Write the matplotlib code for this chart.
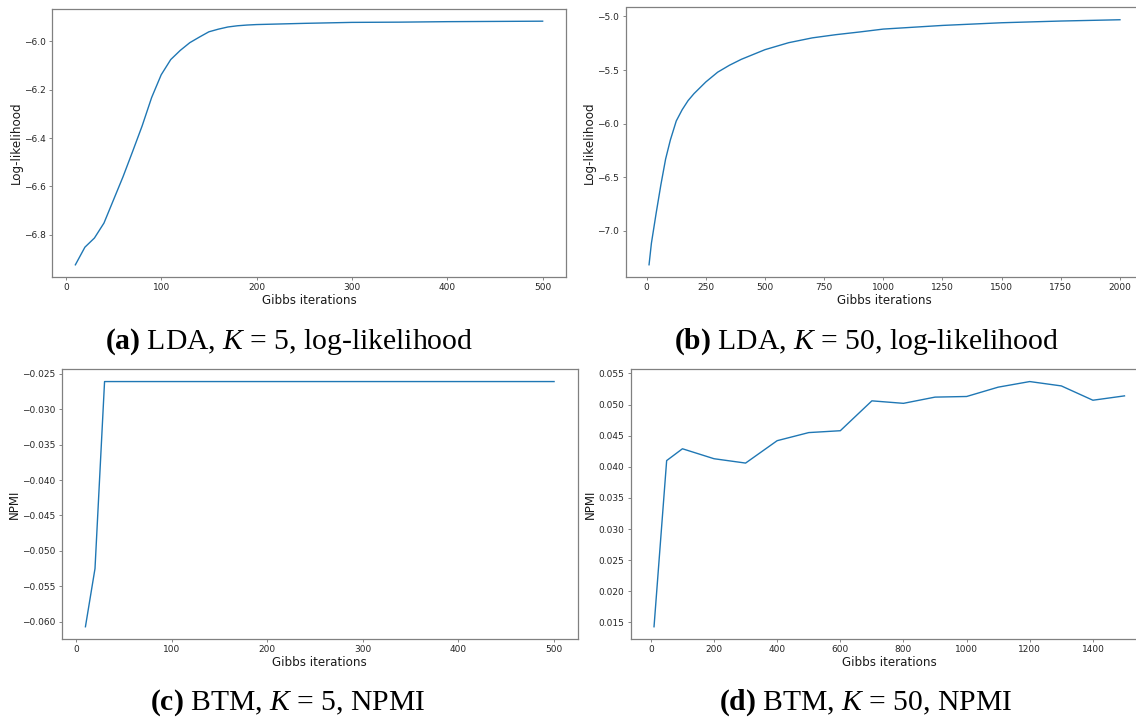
import matplotlib
matplotlib.use("Agg")
import matplotlib.pyplot as plt

# (a) LDA, K=5, log-likelihood
lda5_iter = [10, 20, 30, 40, 50, 60, 70, 80, 90, 100, 110, 120, 130, 140, 150,
             160, 170, 180, 190, 200, 250, 300, 350, 400, 450, 500]
lda5_ll = [-6.925, -6.852, -6.814, -6.752, -6.656, -6.560, -6.456, -6.350, -6.232, -6.138,
           -6.075, -6.037, -6.005, -5.982, -5.960, -5.949, -5.940, -5.935, -5.932, -5.930,
           -5.925, -5.921, -5.920, -5.918, -5.917, -5.916]

# (b) LDA, K=50, log-likelihood
lda50_iter = [10, 20, 40, 60, 80, 100, 125, 150, 175, 200, 250, 300, 350, 400,
              500, 600, 700, 800, 900, 1000, 1250, 1500, 1750, 2000]
lda50_ll = [-7.316, -7.115, -6.835, -6.570, -6.330, -6.153, -5.975, -5.870, -5.785, -5.720,
            -5.611, -5.520, -5.455, -5.400, -5.310, -5.245, -5.200, -5.170, -5.145, -5.118,
            -5.084, -5.059, -5.043, -5.031]

# (c) BTM, K=5, NPMI
btm5_iter = [10, 20, 30, 500]
btm5_npmi = [-0.0607, -0.0525, -0.0261, -0.0261]

# (d) BTM, K=50, NPMI
btm50_iter = [10, 50, 100, 200, 300, 400, 500, 600, 700, 800, 900, 1000, 1100, 1200, 1300, 1400, 1500]
btm50_npmi = [0.0143, 0.0410, 0.0429, 0.0413, 0.0406, 0.0442, 0.0455, 0.0458, 0.0506, 0.0502,
              0.0512, 0.0513, 0.0528, 0.0537, 0.0530, 0.0507, 0.0514]

captions = [r"$\mathbf{(a)}$ LDA, $K$ = 5, log-likelihood",
            r"$\mathbf{(b)}$ LDA, $K$ = 50, log-likelihood",
            r"$\mathbf{(c)}$ BTM, $K$ = 5, NPMI",
            r"$\mathbf{(d)}$ BTM, $K$ = 50, NPMI"]

plt.rcParams["mathtext.fontset"] = "custom"
plt.rcParams["mathtext.rm"] = "Liberation Serif"
plt.rcParams["mathtext.it"] = "Liberation Serif:italic"
plt.rcParams["mathtext.bf"] = "Liberation Serif:bold"

W, H = 1136, 717
fig = plt.figure(figsize=(W / 100, H / 100), dpi=100)


def px_axes(left, right, top, bottom):
    return fig.add_axes([left / W, (H - bottom) / H, (right - left) / W, (bottom - top) / H])


panels = [
    (px_axes(52, 566, 9, 277), lda5_iter, lda5_ll, "Log-likelihood"),
    (px_axes(625.5, 1143.5, 7.5, 277), lda50_iter, lda50_ll, "Log-likelihood"),
    (px_axes(62, 577.5, 369.3, 639), btm5_iter, btm5_npmi, "NPMI"),
    (px_axes(630.5, 1148, 369.3, 639), btm50_iter, btm50_npmi, "NPMI"),
]

for ax, x, y, ylab in panels:
    ax.plot(x, y, color="#1f77b4", lw=1.0)
    ax.set_xlabel("Gibbs iterations", fontsize=8.6, color="0.1", labelpad=1)
    ax.set_ylabel(ylab, fontsize=8.6, color="0.1", labelpad=1)
    ax.tick_params(labelsize=6.5, length=2.5, width=0.6, pad=2, colors="0.45", labelcolor="0.15")
    for sp in ax.spines.values():
        sp.set_color("0.5"); sp.set_linewidth(0.9)

panels[0][0].set_yticks([-6.8, -6.6, -6.4, -6.2, -6.0])
panels[1][0].set_xticks([0, 250, 500, 750, 1000, 1250, 1500, 1750, 2000])

# caption centre x and baseline y, in pixels
cap_pos = [(289, 348.5), (866, 348.5), (288, 710), (866, 710)]
for (cx, cy), txt in zip(cap_pos, captions):
    fig.text(cx / W, 1 - cy / H, txt, ha="center", va="baseline", fontsize=21.3,
             family="Liberation Serif")

fig.savefig("out.png", dpi=100)
